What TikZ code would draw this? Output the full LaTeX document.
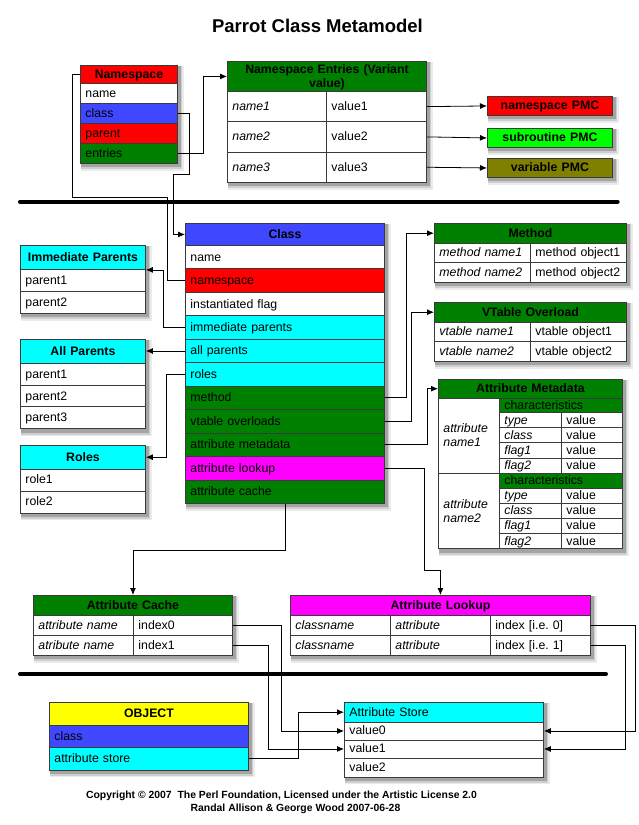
\documentclass[tikz,border=0pt]{standalone}
\usepackage{fontspec}
\setmainfont{Liberation Sans}
\usetikzlibrary{arrows.meta,calc}
\pgfdeclarelayer{background}
\pgfsetlayers{background,main}
\definecolor{nsred}{HTML}{FF0000}
\definecolor{cblue}{HTML}{4048FF}
\definecolor{dgreen}{HTML}{008000}
\definecolor{lgreen}{HTML}{00FF00}
\definecolor{olivec}{HTML}{808000}
\definecolor{cyanc}{HTML}{00FFFF}
\definecolor{magc}{HTML}{FF00FF}
\definecolor{yelc}{HTML}{FFFF00}
\definecolor{edgec}{HTML}{3A3A3A}
\newcommand{\mkcell}[8]{\node[cellbase,fill=#6,minimum width=#4pt,minimum height=#5pt,text width=#4pt-10pt,#7] (#1) at (#2,#3) {#8};}
\newcommand{\mkshadow}[2]{\begin{pgfonlayer}{background}
 \fill[black,opacity=0.08] ([xshift=1pt,yshift=-1pt]#1.north west) rectangle ([xshift=6pt,yshift=-7pt]#2.south east);
 \fill[black,opacity=0.12] ([xshift=1pt,yshift=-1pt]#1.north west) rectangle ([xshift=4.5pt,yshift=-5.5pt]#2.south east);
 \fill[black,opacity=0.2] ([xshift=1pt,yshift=-1pt]#1.north west) rectangle ([xshift=3pt,yshift=-3.5pt]#2.south east);
\end{pgfonlayer}}
\tikzset{
 cellbase/.style={draw=edgec, line width=0.9pt, anchor=north west, inner xsep=5pt, inner ysep=0pt,
   align=left, font=\fontsize{12.3}{14}\selectfont, text=black, text height=9pt, text depth=1pt},
 hd/.style={align=center, font=\fontsize{12.3}{14}\selectfont\bfseries},
 it/.style={font=\fontsize{12.3}{14}\selectfont\itshape},
 arr/.style={line width=0.8pt, -{Latex[length=7pt,width=6pt]}},
 wire/.style={line width=0.8pt},
 thickrule/.style={line width=4pt, line cap=round},
}
\begin{document}
\begin{tikzpicture}[x=1pt,y=-1pt]
\useasboundingbox (0,0) rectangle (638,825);
\begin{pgfonlayer}{background}
\fill[white] (0,0) rectangle (638,825);
\end{pgfonlayer}

\node[font=\fontsize{18.5}{20}\selectfont\bfseries] (title) at (317.5,25.5) {Parrot Class Metamodel};

% separators
\coordinate (r1a) at (20,201.7); \coordinate (r1b) at (617.7,201.7);
\coordinate (r2a) at (20,674); \coordinate (r2b) at (606,674);
\draw[thickrule] (r1a) -- (r1b);
\draw[thickrule] (r2a) -- (r2b);

% Namespace
\mkcell{ns_h}{80}{65}{97}{18}{nsred}{hd}{Namespace}
\mkcell{ns_name}{80}{83}{97}{20}{white}{}{name}
\mkcell{ns_class}{80}{103}{97}{20}{cblue}{}{class}
\mkcell{ns_parent}{80}{123}{97}{20}{nsred}{}{parent}
\mkcell{ns_entries}{80}{143}{97}{20}{dgreen}{}{entries}
\mkshadow{ns_h}{ns_entries}

% Namespace Entries
\mkcell{ne_h}{227}{61}{199}{30}{dgreen}{hd,text depth=15.6pt,font=\fontsize{12.3}{14.6}\selectfont\bfseries}{Namespace Entries (Variant\\value)}
\mkcell{ne_n1}{227}{91}{99}{30.3}{white}{it}{name1}
\mkcell{ne_v1}{326}{91}{100}{30.3}{white}{}{value1}
\mkcell{ne_n2}{227}{121.3}{99}{30.3}{white}{it}{name2}
\mkcell{ne_v2}{326}{121.3}{100}{30.3}{white}{}{value2}
\mkcell{ne_n3}{227}{151.6}{99}{30.4}{white}{it}{name3}
\mkcell{ne_v3}{326}{151.6}{100}{30.4}{white}{}{value3}
\mkshadow{ne_h}{ne_v3}

% PMCs
\mkcell{pmc1}{487}{96}{125}{19}{nsred}{hd}{namespace PMC}
\mkcell{pmc2}{487}{128}{125}{19}{lgreen}{hd}{subroutine PMC}
\mkcell{pmc3}{487}{158}{125}{19}{olivec}{hd}{variable PMC}
\mkshadow{pmc1}{pmc1}
\mkshadow{pmc2}{pmc2}
\mkshadow{pmc3}{pmc3}

% Class
\mkcell{c_h}{185}{223}{199}{22}{cblue}{hd}{Class}
\mkcell{c_name}{185}{245}{199}{23.45}{white}{}{name}
\mkcell{c_ns}{185}{268.45}{199}{23.45}{nsred}{}{namespace}
\mkcell{c_if}{185}{291.9}{199}{23.45}{white}{}{instantiated flag}
\mkcell{c_ip}{185}{315.35}{199}{23.45}{cyanc}{}{immediate parents}
\mkcell{c_ap}{185}{338.8}{199}{23.45}{cyanc}{}{all parents}
\mkcell{c_roles}{185}{362.25}{199}{23.45}{cyanc}{}{roles}
\mkcell{c_method}{185}{385.7}{199}{23.45}{dgreen}{}{method}
\mkcell{c_vt}{185}{409.15}{199}{23.45}{dgreen}{}{vtable overloads}
\mkcell{c_am}{185}{432.6}{199}{23.45}{dgreen}{}{attribute metadata}
\mkcell{c_al}{185}{456.05}{199}{23.45}{magc}{}{attribute lookup}
\mkcell{c_ac}{185}{479.5}{199}{23.45}{dgreen}{}{attribute cache}
\mkshadow{c_h}{c_ac}

% Immediate Parents
\mkcell{ip_h}{20}{245}{125}{24}{cyanc}{hd}{Immediate Parents}
\mkcell{ip_1}{20}{269}{125}{22}{white}{}{parent1}
\mkcell{ip_2}{20}{291}{125}{22}{white}{}{parent2}
\mkshadow{ip_h}{ip_2}

% All Parents
\mkcell{ap_h}{20}{339}{125}{24}{cyanc}{hd}{All Parents}
\mkcell{ap_1}{20}{363}{125}{21.7}{white}{}{parent1}
\mkcell{ap_2}{20}{384.7}{125}{21.7}{white}{}{parent2}
\mkcell{ap_3}{20}{406.4}{125}{21.7}{white}{}{parent3}
\mkshadow{ap_h}{ap_3}

% Roles
\mkcell{ro_h}{20}{445}{125}{23.5}{cyanc}{hd}{Roles}
\mkcell{ro_1}{20}{468.5}{125}{22}{white}{}{role1}
\mkcell{ro_2}{20}{490.5}{125}{22}{white}{}{role2}
\mkshadow{ro_h}{ro_2}

% Method
\mkcell{m_h}{434}{223}{192}{19.5}{dgreen}{hd}{Method}
\mkcell{m_1a}{434}{242.5}{96}{19.7}{white}{it}{method name1}
\mkcell{m_1b}{530}{242.5}{96}{19.7}{white}{}{method object1}
\mkcell{m_2a}{434}{262.2}{96}{19.7}{white}{it}{method name2}
\mkcell{m_2b}{530}{262.2}{96}{19.7}{white}{}{method object2}
\mkshadow{m_h}{m_2b}

% VTable Overload
\mkcell{vt_h}{434}{302}{192}{19.5}{dgreen}{hd}{VTable Overload}
\mkcell{vt_1a}{434}{321.5}{96}{19.7}{white}{it}{vtable name1}
\mkcell{vt_1b}{530}{321.5}{96}{19.7}{white}{}{vtable object1}
\mkcell{vt_2a}{434}{341.2}{96}{19.7}{white}{it}{vtable name2}
\mkcell{vt_2b}{530}{341.2}{96}{19.7}{white}{}{vtable object2}
\mkshadow{vt_h}{vt_2b}

% Attribute Metadata
\mkcell{am_h}{438}{379}{184}{18.5}{dgreen}{hd}{Attribute Metadata}
\mkcell{am1_n}{438}{397.5}{61}{75.3}{white}{it,text depth=15pt}{attribute\\name1}
\mkcell{am1_c}{499}{397.5}{123}{14.5}{dgreen}{}{characteristics}
\mkcell{am1_tk}{499}{412}{62}{15.2}{white}{it}{type}
\mkcell{am1_tv}{561}{412}{61}{15.2}{white}{}{value}
\mkcell{am1_ck}{499}{427.2}{62}{15.2}{white}{it}{class}
\mkcell{am1_cv}{561}{427.2}{61}{15.2}{white}{}{value}
\mkcell{am1_1k}{499}{442.4}{62}{15.2}{white}{it}{flag1}
\mkcell{am1_1v}{561}{442.4}{61}{15.2}{white}{}{value}
\mkcell{am1_2k}{499}{457.6}{62}{15.2}{white}{it}{flag2}
\mkcell{am1_2v}{561}{457.6}{61}{15.2}{white}{}{value}
\mkcell{am2_n}{438}{472.8}{61}{75.5}{white}{it,text depth=15pt}{attribute\\name2}
\mkcell{am2_c}{499}{472.8}{123}{14.7}{dgreen}{}{characteristics}
\mkcell{am2_tk}{499}{487.5}{62}{15.2}{white}{it}{type}
\mkcell{am2_tv}{561}{487.5}{61}{15.2}{white}{}{value}
\mkcell{am2_ck}{499}{502.7}{62}{15.2}{white}{it}{class}
\mkcell{am2_cv}{561}{502.7}{61}{15.2}{white}{}{value}
\mkcell{am2_1k}{499}{517.9}{62}{15.2}{white}{it}{flag1}
\mkcell{am2_1v}{561}{517.9}{61}{15.2}{white}{}{value}
\mkcell{am2_2k}{499}{533.1}{62}{15.2}{white}{it}{flag2}
\mkcell{am2_2v}{561}{533.1}{61}{15.2}{white}{}{value}
\mkshadow{am_h}{am2_2v}

% Attribute Cache
\mkcell{ac_h}{33}{595}{199}{20}{dgreen}{hd}{Attribute Cache}
\mkcell{ac_1a}{33}{615}{100}{19.8}{white}{it}{attribute name}
\mkcell{ac_1b}{133}{615}{99}{19.8}{white}{}{index0}
\mkcell{ac_2a}{33}{634.8}{100}{19.8}{white}{it}{atribute name}
\mkcell{ac_2b}{133}{634.8}{99}{19.8}{white}{}{index1}
\mkshadow{ac_h}{ac_2b}

% Attribute Lookup
\mkcell{al_h}{290}{595}{300}{20}{magc}{hd}{Attribute Lookup}
\mkcell{al_1a}{290}{615}{100}{19.8}{white}{it}{classname}
\mkcell{al_1b}{390}{615}{100}{19.8}{white}{it}{attribute}
\mkcell{al_1c}{490}{615}{100}{19.8}{white}{}{index [i.e.\ 0]}
\mkcell{al_2a}{290}{634.8}{100}{19.8}{white}{it}{classname}
\mkcell{al_2b}{390}{634.8}{100}{19.8}{white}{it}{attribute}
\mkcell{al_2c}{490}{634.8}{100}{19.8}{white}{}{index [i.e.\ 1]}
\mkshadow{al_h}{al_2c}

% OBJECT
\mkcell{ob_h}{49}{702}{199}{23}{yelc}{hd}{OBJECT}
\mkcell{ob_class}{49}{725}{199}{21.5}{cblue}{}{class}
\mkcell{ob_as}{49}{746.5}{199}{23}{cyanc}{}{attribute store}
\mkshadow{ob_h}{ob_as}

% Attribute Store
\mkcell{as_h}{344}{702}{199}{19.5}{cyanc}{}{Attribute Store}
\mkcell{as_v0}{344}{721.5}{199}{18}{white}{}{value0}
\mkcell{as_v1}{344}{739.5}{199}{18}{white}{}{value1}
\mkcell{as_v2}{344}{757.5}{199}{19}{white}{}{value2}
\mkshadow{as_h}{as_v2}

% copyright
\node[anchor=base, font=\fontsize{10.4}{12}\selectfont\bfseries] (copy1) at (281.5,798.7) {Copyright © 2007\ \ The Perl Foundation, Licensed under the Artistic License 2.0};
\node[anchor=base, font=\fontsize{10.4}{12}\selectfont\bfseries] (copy2) at (295.5,811.4) {Randal Allison \& George Wood 2007-06-28};

% connectors
\draw[wire] (ns_h.west) -- ++(-8,0) -- (72,197.7) -- (167.3,197.7) |- (c_ns.west);
\draw[arr] (ns_class.east) -| (189.3,174) -- (173.3,174) |- (c_h.west);
\draw[arr] (ns_entries.east) -- ++(25,0) |- (ne_h.west);
\draw[arr] (ne_v1.east) -- (pmc1.west);
\draw[arr] (ne_v2.east) -- (pmc2.west);
\draw[arr] (ne_v3.east) -- (pmc3.west);
\draw[arr] (c_ip.west) -- ++(-21.7,0) |- (ip_h.south east);
\draw[arr] (c_ap.west) -- (c_ap.west -| ap_h.east);
\draw[arr] (c_roles.west) -- ++(-19,0) |- (ro_h.east);
\draw[arr] (c_method.east) -- ++(21,0) |- (m_h.west);
\draw[arr] (c_vt.east) -- ++(26,0) |- (vt_h.west);
\draw[arr] (c_am.east) -- ++(42.7,0) |- (am_h.west);
\draw[arr] (c_al.east) -| (424.3,570) -| (al_h.north);
\draw[arr] (c_ac.south) -- ++(0,46.3) -| (ac_h.north);
\draw[arr] (ac_1b.east) -- ++(48,0) |- (as_v0.west);
\draw[arr] (ac_2b.east) -- ++(35.3,0) |- (as_v1.west);
\draw[arr] (al_1c.east) -- ++(44.7,0) |- (as_v0.east);
\draw[arr] (al_2c.east) -- ++(34.5,0) |- (as_v1.east);
\draw[arr] (ob_as.east) -- ++(49,0) |- (as_h.west);
\end{tikzpicture}
\end{document}
